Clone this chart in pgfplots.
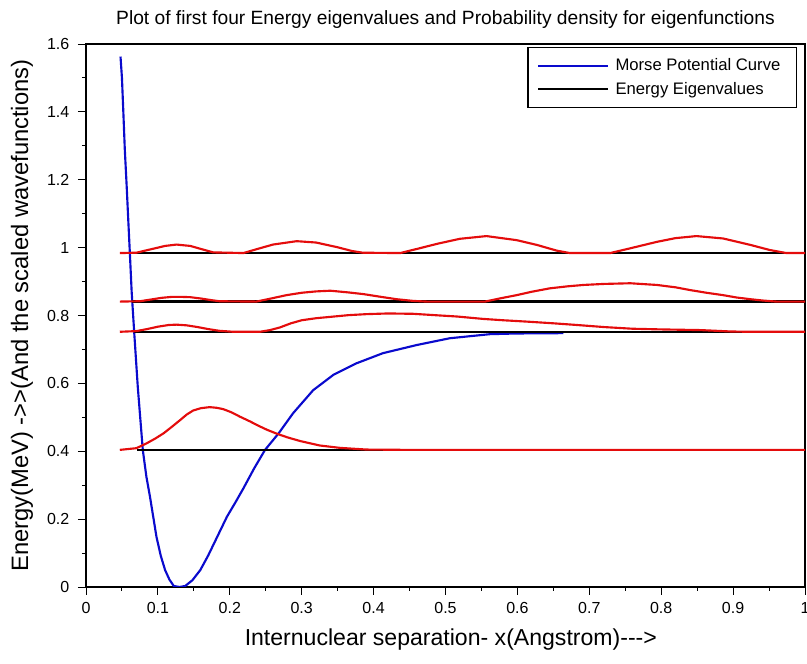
\documentclass[border=0pt]{standalone}
\usepackage{fontspec}
\setmainfont{Liberation Sans}
\usepackage{pgfplots}
\pgfplotsset{compat=1.18}
\definecolor{morse}{RGB}{10,10,205}
\definecolor{psired}{RGB}{228,12,12}

\begin{document}
\begin{tikzpicture}
\begin{axis}[
    name=ax,
    scale only axis,
    width=539.25pt, height=407.25pt,
    xmin=0, xmax=1, ymin=0, ymax=1.6,
    xtick={0,0.1,0.2,0.3,0.4,0.5,0.6,0.7,0.8,0.9,1},
    ytick={0,0.2,0.4,0.6,0.8,1,1.2,1.4,1.6},
    minor x tick num=1, minor y tick num=1,
    tick align=outside,
    xtick pos=bottom, ytick pos=left,
    major tick length=6pt, minor tick length=3pt,
    axis line style={line width=0.8pt},
    every tick/.style={black, line width=0.7pt},
    /pgf/number format/assume math mode=true,
    ticklabel style={font=\fontsize{12}{14}\selectfont},
    xticklabel style={yshift=-2pt},
    yticklabel style={xshift=-3pt},
    title={Plot of first four Energy eigenvalues and Probability density for eigenfunctions},
    title style={font=\fontsize{14.4}{16}\selectfont, at={(axis description cs:0.5,1)}, anchor=center, yshift=12pt},
    xlabel={Internuclear separation- x(Angstrom)-{}-{}->},
    xlabel style={font=\fontsize{17.3}{20}\selectfont, at={(axis description cs:0.5,0)}, anchor=center, yshift=-39.75pt, xshift=4pt},
    ylabel={Energy(MeV) -{}>{}>(And the scaled wavefunctions)},
    ylabel style={font=\fontsize{17.8}{20}\selectfont, at={(axis description cs:0,0.5)}, anchor=center, yshift=48pt},
    legend style={at={(axis description cs:0.9889,0.9945)}, anchor=north east,
        font=\fontsize{12.5}{14}\selectfont, draw=black, line width=0.9pt,
        inner xsep=7pt, inner ysep=6.5pt, row sep=3pt,
        nodes={inner xsep=5pt}},
    legend cell align=left,
    legend image code/.code={\draw[#1, line width=1.7pt] (0pt,0pt) -- (52pt,0pt);},
]

% Morse potential
\addplot[morse, line width=1.6pt] coordinates {
(0.048,1.563)(0.050,1.500)(0.052,1.396)(0.054,1.288)(0.0566,1.180)(0.0588,1.081)
(0.061,0.984)(0.0635,0.870)(0.067,0.752)(0.072,0.590)(0.079,0.404)(0.084,0.325)
(0.089,0.266)(0.098,0.148)(0.104,0.092)(0.110,0.050)(0.116,0.022)(0.122,0.003)
(0.130,0.000)(0.138,0.003)(0.148,0.020)(0.159,0.050)(0.170,0.093)(0.183,0.150)
(0.196,0.207)(0.208,0.250)(0.219,0.291)(0.234,0.350)(0.249,0.404)(0.268,0.453)
(0.288,0.512)(0.316,0.580)(0.344,0.625)(0.376,0.659)(0.413,0.689)(0.460,0.713)
(0.506,0.733)(0.562,0.745)(0.599,0.747)(0.664,0.748)
};
\addlegendentry{Morse Potential Curve}

% energy eigenvalues
\addplot[black, line width=1.8pt] coordinates {(0.071,0.404)(1,0.404)};
\addlegendentry{Energy Eigenvalues}
\addplot[black, line width=1.8pt, forget plot] coordinates {(0.067,0.752)(1,0.752)};
\addplot[black, line width=1.8pt, forget plot] coordinates {(0.0635,0.841)(1,0.841)};
\addplot[black, line width=1.8pt, forget plot] coordinates {(0.061,0.984)(1,0.984)};

% scaled probability densities
\addplot[psired, line width=1.6pt, forget plot] coordinates {
(0.047,0.404)(0.070,0.409)(0.084,0.423)(0.096,0.437)(0.108,0.453)(0.120,0.473)
(0.131,0.492)(0.140,0.508)(0.149,0.520)(0.160,0.527)(0.172,0.530)(0.182,0.528)
(0.191,0.524)(0.202,0.515)(0.214,0.502)(0.228,0.488)(0.240,0.475)(0.252,0.463)
(0.265,0.452)(0.280,0.441)(0.298,0.430)(0.325,0.417)(0.353,0.410)(0.390,0.405)
(0.450,0.404)(1.000,0.404)
};
\addplot[psired, line width=1.6pt, forget plot] coordinates {
(0.047,0.752)(0.070,0.754)(0.085,0.760)(0.100,0.767)(0.115,0.772)(0.126,0.773)
(0.140,0.771)(0.155,0.766)(0.170,0.760)(0.185,0.755)(0.205,0.752)(0.242,0.752)
(0.256,0.757)(0.270,0.765)(0.285,0.777)(0.300,0.786)(0.320,0.792)(0.340,0.796)
(0.365,0.801)(0.390,0.804)(0.420,0.806)(0.455,0.805)(0.485,0.801)(0.516,0.797)
(0.552,0.790)(0.580,0.786)(0.613,0.782)(0.650,0.777)(0.683,0.772)(0.720,0.766)
(0.760,0.761)(0.800,0.759)(0.855,0.757)(0.896,0.753)(0.920,0.752)(1.000,0.752)
};
\addplot[psired, line width=1.6pt, forget plot] coordinates {
(0.047,0.841)(0.075,0.842)(0.090,0.847)(0.105,0.852)(0.120,0.855)(0.131,0.855)
(0.145,0.854)(0.160,0.850)(0.175,0.845)(0.186,0.842)(0.237,0.841)(0.255,0.849)
(0.279,0.860)(0.300,0.867)(0.320,0.871)(0.340,0.873)(0.365,0.868)(0.386,0.863)
(0.410,0.855)(0.432,0.848)(0.455,0.843)(0.474,0.841)(0.555,0.841)(0.575,0.850)
(0.599,0.860)(0.620,0.870)(0.645,0.880)(0.670,0.886)(0.692,0.890)(0.720,0.893)
(0.757,0.895)(0.794,0.890)(0.820,0.883)(0.840,0.875)(0.863,0.867)(0.886,0.860)
(0.905,0.853)(0.924,0.848)(0.942,0.844)(0.960,0.841)(1.000,0.841)
};
\addplot[psired, line width=1.6pt, forget plot] coordinates {
(0.047,0.984)(0.070,0.985)(0.090,0.995)(0.110,1.005)(0.126,1.009)(0.145,1.005)
(0.165,0.993)(0.177,0.986)(0.219,0.984)(0.240,0.997)(0.260,1.009)(0.293,1.019)
(0.320,1.015)(0.350,1.001)(0.370,0.990)(0.385,0.985)(0.437,0.984)(0.460,0.996)
(0.490,1.012)(0.520,1.026)(0.557,1.034)(0.599,1.022)(0.627,1.008)(0.655,0.991)
(0.673,0.984)(0.729,0.984)(0.757,0.998)(0.794,1.017)(0.820,1.028)(0.849,1.034)
(0.886,1.027)(0.924,1.008)(0.951,0.993)(0.974,0.984)(1.000,0.984)
};

\end{axis}
\pgfresetboundingbox
\path ([xshift=-64.5pt,yshift=-57.75pt]ax.south west) rectangle ([xshift=1.5pt,yshift=33pt]ax.north east);
\end{tikzpicture}
\end{document}
